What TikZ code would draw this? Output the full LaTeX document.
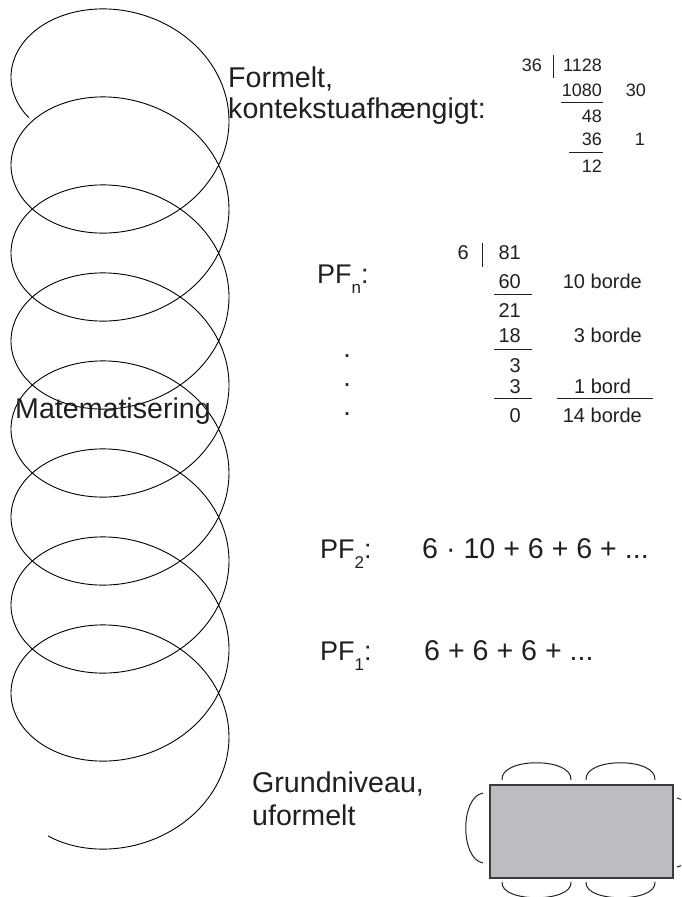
\documentclass[tikz,border=0pt]{standalone}
\usepackage{fontspec}
\setmainfont{Liberation Sans}
\definecolor{ink}{HTML}{231F20}
\definecolor{tablegray}{HTML}{BCBDC0}
\definecolor{tableedge}{HTML}{3A3A3A}
\newcommand\lowsub[1]{\raisebox{-10pt}{\fontsize{17}{17}\selectfont #1}}
\tikzset{
  bigtxt/.style={inner sep=0pt, text=ink, font=\fontsize{28.6}{33}\selectfont, anchor=base west},
  pflabel/.style={inner sep=0pt, text=ink, font=\fontsize{27}{32}\selectfont, anchor=base west},
  dotmark/.style={inner sep=0pt, text=ink, font=\fontsize{27}{32}\selectfont, anchor=base},
  divA/.style={inner sep=0pt, text=ink, font=\fontsize{18}{20}\selectfont, anchor=base east},
  divB/.style={inner sep=0pt, text=ink, font=\fontsize{20}{22}\selectfont, anchor=base east},
  divrule/.style={draw=ink, line width=0.9pt},
  spiralline/.style={draw=black, line width=0.9pt},
  chair/.style={draw=ink, line width=1pt},
  tabletop/.style={fill=tablegray, draw=tableedge, line width=1.6pt}
}
\begin{document}
\begin{tikzpicture}[x=1pt,y=-1pt]
\useasboundingbox (0,0) rectangle (681,897);
\clip (0,0) rectangle (681,897);
\fill[white] (0,0) rectangle (681,897);

% spiral
\draw[spiralline] plot[domain=-33.2:2831.3, samples=1200, smooth]
  ({120-109*cos(\x)}, {77+0.244444*\x-89*sin(\x)});

% level labels
\node[bigtxt] (formelt1) at (228,87) {Formelt,};
\node[bigtxt] (formelt2) at (228,118) {kontekstuafhængigt:};
\node[bigtxt] (matem) at (15,418) {Matematisering};
\node[bigtxt] (grund1) at (252,792) {Grundniveau,};
\node[bigtxt] (grund2) at (252,825) {uformelt};

% PF labels
\node[pflabel] (pfn) at (317,283) {PF\lowsub{n}:};
\node[dotmark] (dot1) at (347,357) {.};
\node[dotmark] (dot2) at (347,386) {.};
\node[dotmark] (dot3) at (347,415) {.};
\node[pflabel] (pf2) at (320,558) {PF\lowsub{2}:};
\node[bigtxt] (expr2) at (422,558) {6 · 10 + 6 + 6 + ...};
\node[pflabel] (pf1) at (320,660) {PF\lowsub{1}:};
\node[bigtxt] (expr1) at (424,660) {6 + 6 + 6 + ...};

% division 1
\node[divA] (a36) at (542,71) {36};
\coordinate (abarT) at (553,55);
\coordinate (abarB) at (553,78);
\draw[divrule] (abarT) -- (abarB);
\node[divA] (a1128) at (602,71) {1128};
\node[divA] (a1080) at (602,96) {1080};
\node[divA] (a30) at (646,96) {30};
\coordinate (ar1L) at (561,102);
\coordinate (ar1R) at (603,102);
\draw[divrule] (ar1L) -- (ar1R);
\node[divA] (a48) at (602,122) {48};
\node[divA] (a36b) at (602,145) {36};
\node[divA] (a1) at (645,145) {1};
\coordinate (ar2L) at (569,152);
\coordinate (ar2R) at (603,152);
\draw[divrule] (ar2L) -- (ar2R);
\node[divA] (a12) at (602,172) {12};

% division 2
\node[divB] (b6) at (469,259) {6};
\coordinate (bbarT) at (482,243);
\coordinate (bbarB) at (482,267);
\draw[divrule] (bbarT) -- (bbarB);
\node[divB] (b81) at (521,259) {81};
\node[divB] (b60) at (521,288) {60};
\node[divB] (b10) at (642,288) {10 borde};
\coordinate (br1L) at (494,294);
\coordinate (br1R) at (532,294);
\draw[divrule] (br1L) -- (br1R);
\node[divB] (b21) at (521,317) {21};
\node[divB] (b18) at (521,342) {18};
\node[divB] (b3b) at (642,342) {3 borde};
\coordinate (br2L) at (494,349);
\coordinate (br2R) at (532,349);
\draw[divrule] (br2L) -- (br2R);
\node[divB] (b3) at (521,372) {3};
\node[divB] (b3c) at (521,393) {3};
\node[divB, anchor=base west] (b1) at (574,393) {1 bord};
\coordinate (br3L) at (494,398);
\coordinate (br3R) at (532,398);
\draw[divrule] (br3L) -- (br3R);
\coordinate (br4L) at (557,398);
\coordinate (br4R) at (653,398);
\draw[divrule] (br4L) -- (br4R);
\node[divB] (b0) at (521,422) {0};
\node[divB] (b14) at (642,422) {14 borde};

% table with chairs
\draw[chair] (502,780) .. controls (500,757) and (573,757) .. (571,780);
\draw[chair] (586,780) .. controls (584,757) and (657,757) .. (655,780);
\draw[chair] (502,882) .. controls (500,903) and (573,903) .. (571,882);
\draw[chair] (586,882) .. controls (584,903) and (657,903) .. (655,882);
\draw[chair] (483,793) .. controls (460,797) and (460,859) .. (483,863);
\draw[chair] (677,798) .. controls (700,802) and (700,863) .. (677,867);
\node[tabletop, inner sep=0pt, minimum width=183pt, minimum height=93pt, anchor=north west] (table) at (489,784) {};
\end{tikzpicture}
\end{document}
